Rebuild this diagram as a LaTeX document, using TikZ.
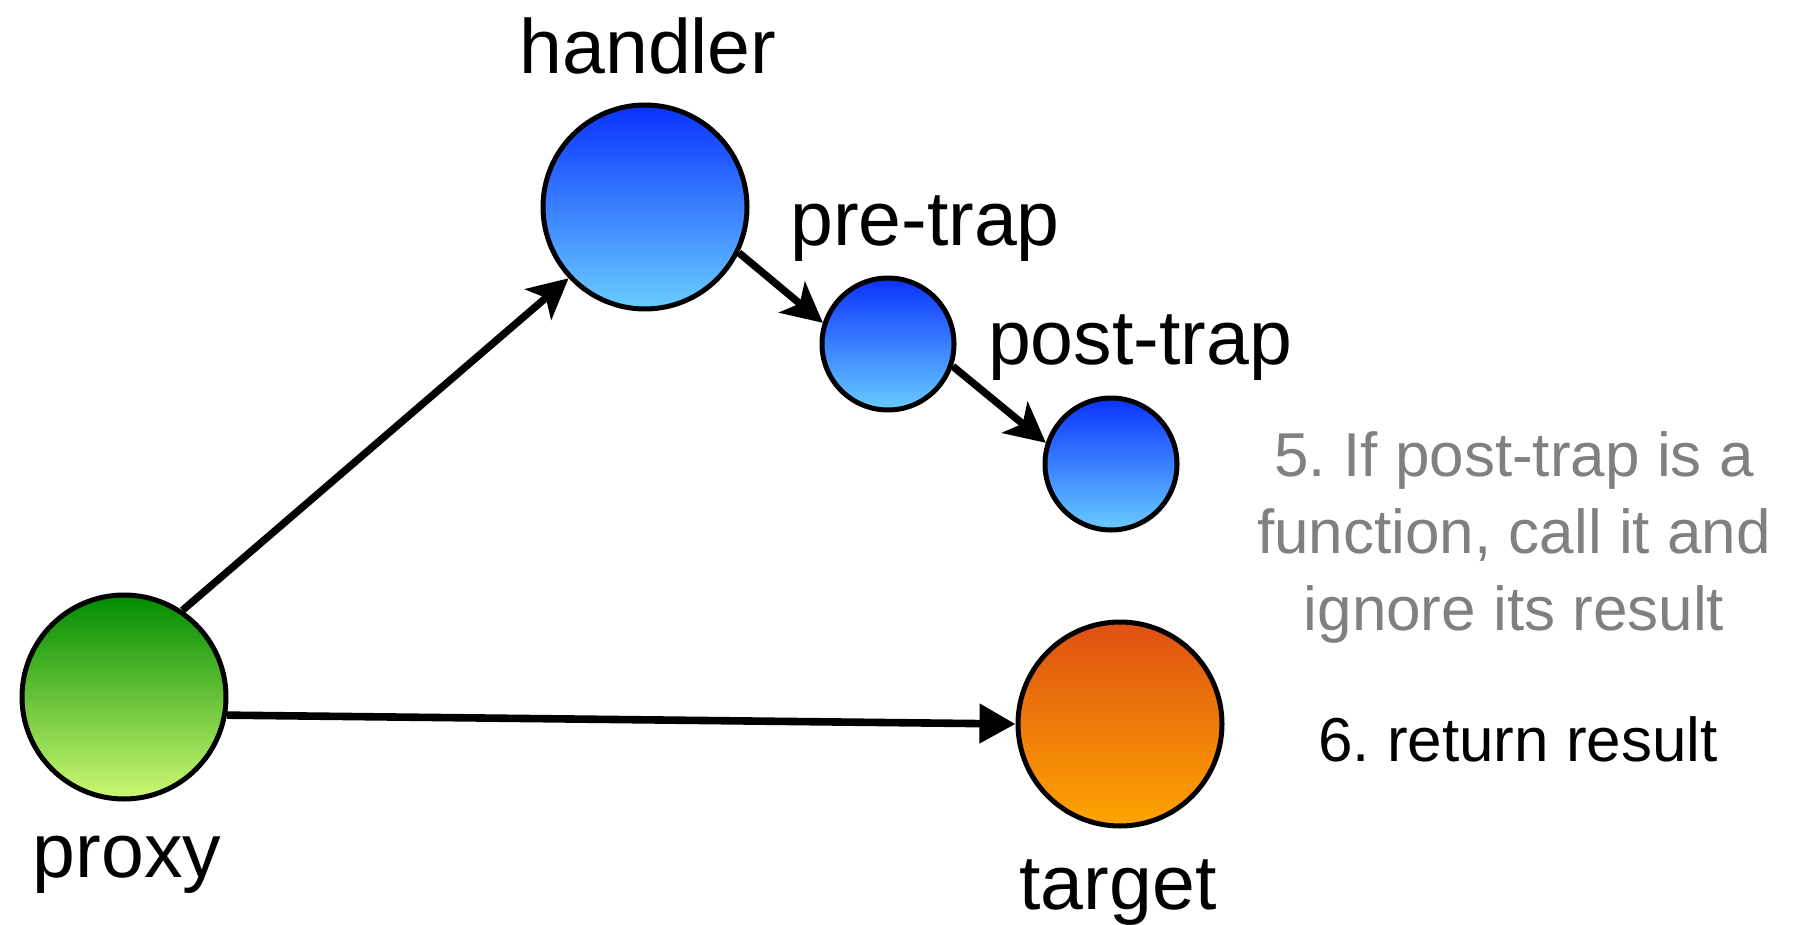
\documentclass[tikz,border=0pt]{standalone}
\usepackage{fontspec}
\setmainfont{Liberation Sans}
\usetikzlibrary{arrows.meta}
\definecolor{blueTop}{RGB}{10,50,255}
\definecolor{blueBot}{RGB}{105,205,255}
\definecolor{greenTop}{RGB}{0,140,0}
\definecolor{greenBot}{RGB}{205,248,115}
\definecolor{orangeTop}{RGB}{222,80,20}
\definecolor{orangeBot}{RGB}{255,165,0}
\definecolor{noteGray}{RGB}{128,128,128}
\frenchspacing
\begin{document}
\begin{tikzpicture}[x=0.5pt,y=-0.5pt,
  ball/.style={circle, draw=black, line width=2.5pt, inner sep=0pt},
  bigball/.style={ball, minimum size=102pt},
  smallball/.style={ball, minimum size=66pt},
  bluegrad/.style={top color=blueTop, bottom color=blueBot},
  lbl/.style={anchor=base, inner sep=0pt, font=\fontsize{38.5pt}{46pt}\selectfont},
  note/.style={anchor=base, inner sep=0pt, font=\fontsize{31pt}{38.5pt}\selectfont},
  conn/.style={line width=3.7pt, -{Stealth[length=20pt,width=20pt,inset=5pt]}},
  flatconn/.style={line width=3.8pt, -{Triangle[length=18pt,width=19pt]}}
]
\useasboundingbox (0,0) rectangle (1809,925);

\node[bigball, bluegrad] (handler) at (645,207) {};
\node[smallball, bluegrad] (pretrap) at (888,344) {};
\node[smallball, bluegrad] (posttrap) at (1111,464) {};
\node[bigball, top color=greenTop, bottom color=greenBot] (proxy) at (124,697) {};
\node[bigball, top color=orangeTop, bottom color=orangeBot] (target) at (1120,724) {};

\node[lbl] (handlerlbl) at (648,74) {handler};
\node[lbl] (pretraplbl) at (925,246) {pre-trap};
\node[lbl] (posttraplbl) at (1140,364) {post-trap};
\node[lbl] (proxylbl) at (127,877) {proxy};
\node[lbl] (targetlbl) at (1118,909) {target};

\node[note, text=noteGray] (note1) at (1514,476) {5. If post-trap is a};
\node[note, text=noteGray] (note2) at (1514,553) {function, call it and};
\node[note, text=noteGray] (note3) at (1514,630) {ignore its result};
\node[note] (note4) at (1518,761) {6. return result};

\draw[conn] (proxy.56) -- (handler.223);
\draw[flatconn] (proxy.-10) -- (target.180);
\draw[conn] (handler.-26) -- (pretrap.162);
\draw[conn] (pretrap.-19) -- (posttrap.162);
\end{tikzpicture}
\end{document}
